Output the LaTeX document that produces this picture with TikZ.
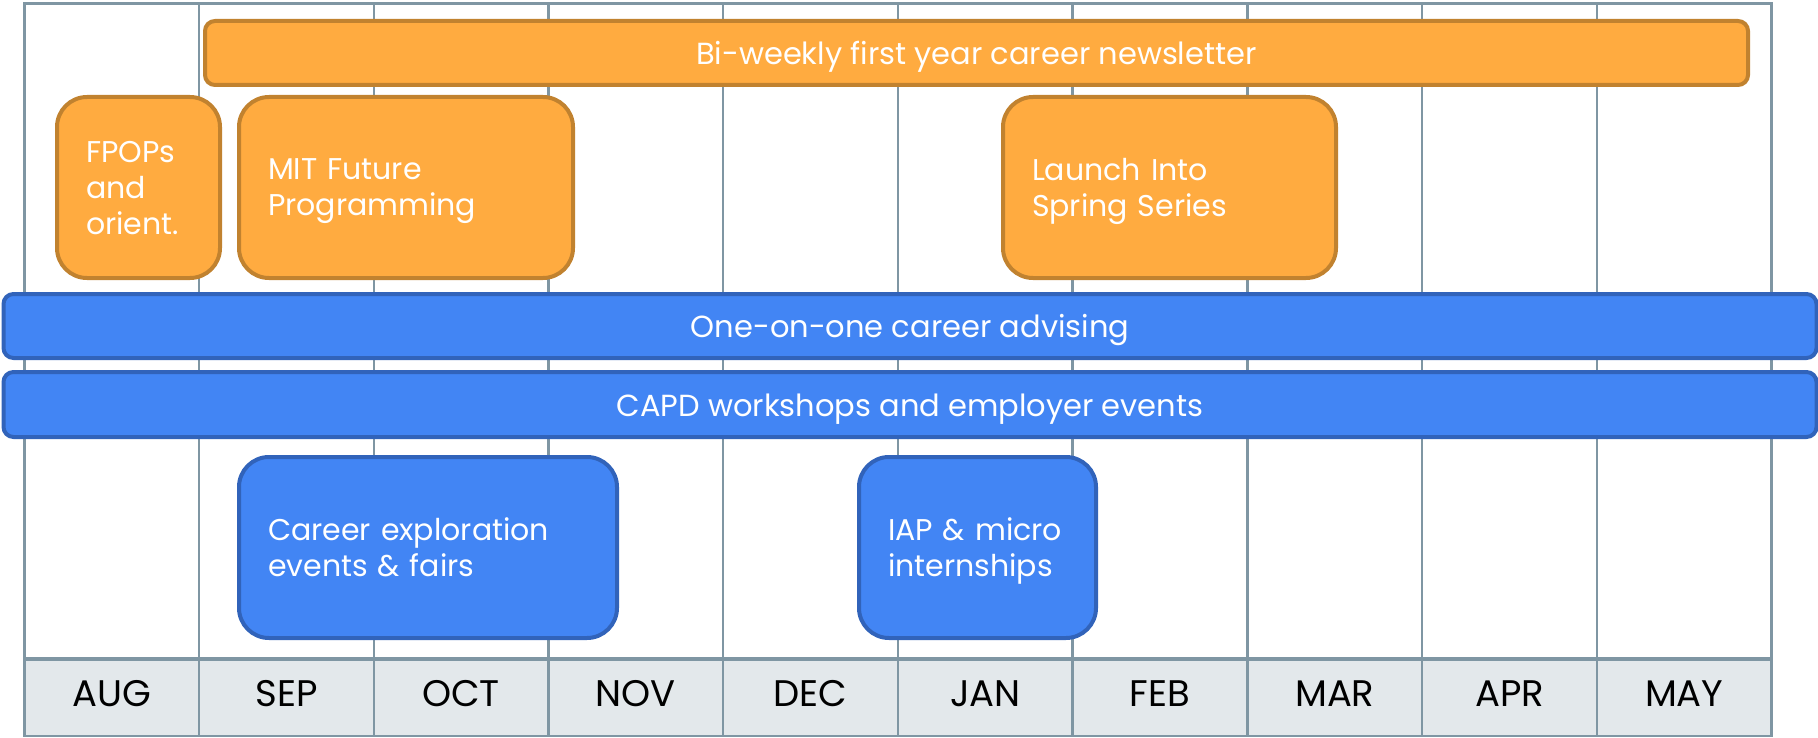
\documentclass[tikz,border=0pt]{standalone}
\usepackage{fontspec}
\setmainfont{Poppins}
\usetikzlibrary{calc}
\definecolor{gridline}{HTML}{7F96A3}
\definecolor{headfill}{HTML}{E3E8EB}
\definecolor{orangefill}{HTML}{FFAB40}
\definecolor{orangeline}{HTML}{C1822F}
\definecolor{bluefill}{HTML}{4285F4}
\definecolor{blueline}{HTML}{3163BA}
\newcommand*{\colw  }{174.73}
\newcommand*{\gleft }{24.3}
\newcommand*{\gright}{1771.6}
\newcommand*{\gtop  }{3.5}
\newcommand*{\ghead }{658.5}
\newcommand*{\gbot  }{736.2}
\newcommand*{\pad   }{29pt}
\tikzset{
    bar/.style     = {draw, line width=4pt, rounded corners=10pt, text=white, inner sep=0pt,
                      text height=23.5pt, text depth=0pt, font=\fontsize{30.5}{36}\selectfont},
    orangebar/.style = {bar, fill=orangefill, draw=orangeline},
    bluebar/.style   = {bar, fill=bluefill, draw=blueline},
    tallbox/.style = {draw, line width=4pt, rounded corners=30pt, text=white, align=left,
                      inner xsep=\pad, inner ysep=0pt, text depth=36pt,
                      font=\fontsize{30}{36}\selectfont},
    orangebox/.style = {tallbox, fill=orangefill, draw=orangeline},
    bluebox/.style   = {tallbox, fill=bluefill, draw=blueline},
    monthlabel/.style = {text=black, font=\fontsize{37}{40}\selectfont}
}

\begin{document}
\begin{tikzpicture}[x=1pt, y=-1pt]
    \useasboundingbox (0,0) rectangle (1818,738);
    % month grid
    \fill [headfill] (\gleft,\ghead) rectangle (\gright,\gbot);
    \draw [gridline, line width=2.5pt] (\gleft,\gtop) rectangle (\gright,\gbot);
    \foreach \i in {1,...,9}
        \draw [gridline, line width=2.5pt] ({\gleft+\i*\colw},\gtop) -- ({\gleft+\i*\colw},\gbot);
    \draw [gridline, line width=4pt] (\gleft,\ghead) -- (\gright,\ghead);
    \foreach \mon [count=\i] in {AUG,SEP,OCT,NOV,DEC,JAN,FEB,MAR,APR,MAY}
        \node [monthlabel] (month\i) at ({\gleft+(\i-0.5)*\colw},693.5) {\mon};

        \node [orangebar, minimum width=1543pt, minimum height=64pt] (newsletter) at (976.5,53) {Bi-weekly first year career newsletter};
        \node [orangebox, text width=105pt, text depth=72pt, minimum height=181pt] (fpops) at (138.5,187.5) {FPOPs\\and\\orient.};
        \node [orangebox, text width=276pt, minimum height=181pt] (future) at (406,187.5) {MIT Future\\Programming};
        \node [orangebox, text width=275pt, minimum height=181pt] (spring) at (1169.5,187.5) {Launch Into\\Spring Series};

        \node [bluebar, minimum width=1813pt, minimum height=64pt] (advising) at (910,326) {One-on-one career advising};
        \node [bluebar, minimum width=1813pt, minimum height=65pt] (capd) at (910,404.5) {CAPD workshops and employer events};
        \node [bluebox, text width=320pt, minimum height=181pt] (explore) at (428,547.5) {Career exploration\\events \& fairs};
        \node [bluebox, text width=179pt, minimum height=181pt] (iap) at (977.5,547.5) {IAP \& micro\\internships};
    \end{tikzpicture}
\end{document}
